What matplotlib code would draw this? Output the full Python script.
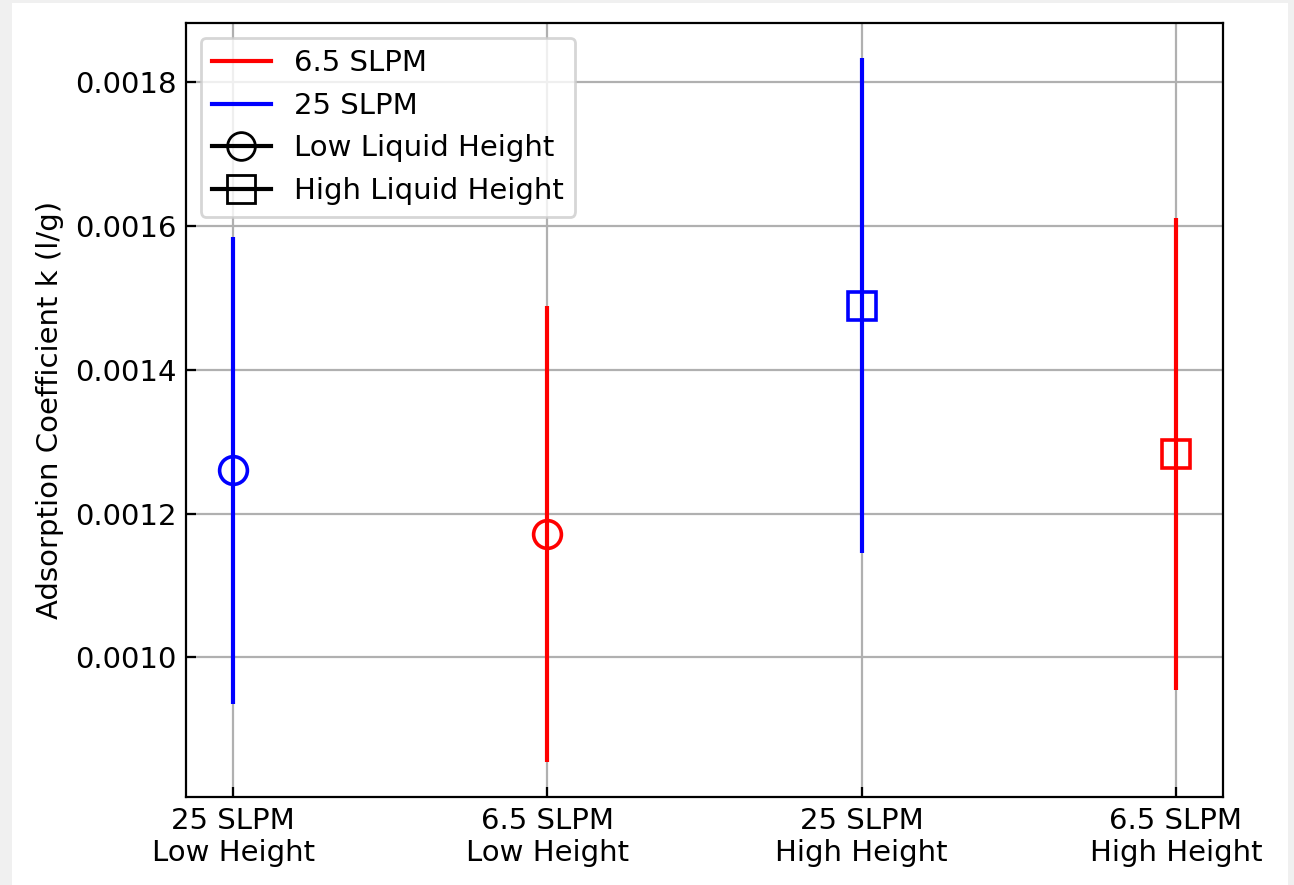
import matplotlib
matplotlib.use("Agg")
from matplotlib import pyplot as plt
from matplotlib.lines import Line2D
from matplotlib.patches import Rectangle

# conditions on the x axis
conditions = ["25 SLPM\nLow Height", "6.5 SLPM\nLow Height",
              "25 SLPM\nHigh Height", "6.5 SLPM\nHigh Height"]
k_values = [0.001260, 0.001172, 0.001489, 0.001283]
k_errors = [0.000324, 0.000317, 0.000344, 0.000328]
colors = ["blue", "red", "blue", "red"]
markers = ["o", "o", "s", "s"]

plt.rcParams["font.size"] = 10.5

fig = plt.figure(figsize=(6.47, 4.425), dpi=200, facecolor="#f0f0f0")
# white page inside the light gray frame
fig.add_artist(Rectangle((12 / 1294, 0), (1288 - 12) / 1294, (885 - 3) / 885,
                         transform=fig.transFigure, facecolor="white",
                         edgecolor="none", zorder=-10))
ax = fig.add_axes([186 / 1294, 88 / 885, (1223 - 186) / 1294, (797 - 23) / 885])

for i in range(len(conditions)):
    ax.errorbar(i, k_values[i], yerr=k_errors[i], fmt=markers[i], color=colors[i],
                mfc="none", markersize=10, mew=1.3, lw=1.5, capsize=0)

ax.set_xticks(range(len(conditions)))
ax.set_xticklabels(conditions)
ax.set_ylabel("Adsorption Coefficient k (l/g)")
ax.grid(True, color="#b0b0b0", lw=0.8)
ax.set_axisbelow(True)
ax.tick_params(direction="in")

handles = [Line2D([], [], color="red", lw=1.5),
           Line2D([], [], color="blue", lw=1.5),
           Line2D([], [], color="black", lw=1.5, marker="o", mfc="none", markersize=10),
           Line2D([], [], color="black", lw=1.5, marker="s", mfc="none", markersize=10)]
ax.legend(handles, ["6.5 SLPM", "25 SLPM", "Low Liquid Height", "High Liquid Height"],
          loc="upper left")

fig.savefig("out.png", dpi=200, facecolor=fig.get_facecolor())
